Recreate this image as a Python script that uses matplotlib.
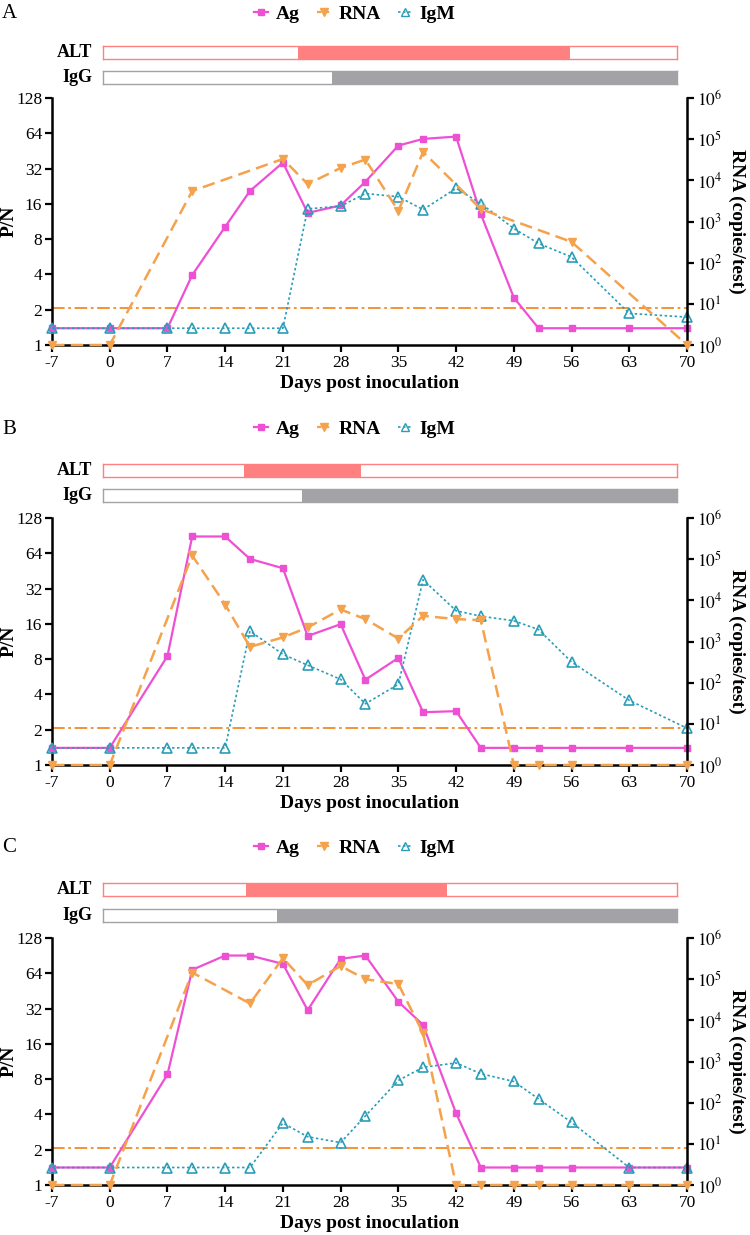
import matplotlib
matplotlib.use('Agg')
import matplotlib.pyplot as plt
from matplotlib.lines import Line2D

plt.rcParams['font.family'] = 'serif'
plt.rcParams['font.serif'] = ['Liberation Serif', 'DejaVu Serif']
plt.rcParams['mathtext.fontset'] = 'stix'

# sampling days (Ag and IgM share them)
days = [-7, 0, 7, 10, 14, 17, 21, 24, 28, 31, 35, 38, 42, 45, 49, 52, 56, 63, 70]
xticks = [-7, 0, 7, 14, 21, 28, 35, 42, 49, 56, 63, 70]

# panel A
ag_a = [1.39, 1.39, 1.39, 3.95, 10.2, 20.6, 36, 13.4, 15.5, 24.7, 50.3, 57.3, 60, 13.1, 2.54, 1.39, 1.39, 1.39, 1.39]
igm_a = [1.39, 1.39, 1.39, 1.39, 1.39, 1.39, 1.39, 14.5, 15.3, 19.6, 18.4, 14.3, 21.7, 16.1, 9.86, 7.36, 5.63, 1.86, 1.73]
rna_days_a = [-7, 0, 10, 21, 24, 28, 31, 35, 38, 45, 56, 70]
rna_a = [1, 1, 5.5e3, 3.3e4, 8.1e3, 2.0e4, 3.2e4, 1.8e3, 4.9e4, 2.0e3, 3.2e2, 1]
alt_a = (0.339, 0.814)   # fraction of the bar
igg_a = (0.399, 1.0)

# panel B
ag_b = [1.4, 1.4, 8.5, 89, 89, 57.3, 47.7, 12.6, 15.9, 5.34, 8.2, 2.82, 2.88, 1.4, 1.4, 1.4, 1.4, 1.4, 1.4]
igm_b = [1.4, 1.4, 1.4, 1.4, 1.4, 13.9, 8.8, 7.1, 5.38, 3.33, 4.88, 38, 20.7, 18.6, 17, 14.3, 7.57, 3.56, 2.06]
rna_days_b = [-7, 0, 10, 14, 17, 21, 24, 28, 31, 35, 38, 42, 45, 49, 52, 56, 70]
rna_b = [1, 1, 1.23e5, 7.9e3, 7.4e2, 1.26e3, 2.19e3, 6.0e3, 3.5e3, 1.18e3, 4.2e3, 3.5e3, 3.3e3, 1, 1, 1, 1]
alt_b = (0.246, 0.450)
igg_b = (0.347, 1.0)

# panel C
ag_c = [1.41, 1.41, 8.77, 68.5, 90.7, 90.7, 77, 31, 85, 90.7, 36.6, 23.2, 4.09, 1.41, 1.41, 1.41, 1.41, 1.41, 1.41]
igm_c = [1.41, 1.41, 1.41, 1.41, 1.41, 1.41, 3.38, 2.58, 2.30, 3.88, 7.8, 10.1, 11, 8.9, 7.64, 5.43, 3.42, 1.41, 1.41]
rna_days_c = [-7, 0, 10, 17, 21, 24, 28, 31, 35, 38, 42, 45, 49, 52, 56, 63, 70]
rna_c = [1, 1, 1.45e5, 2.57e4, 3.24e5, 7.2e4, 2.09e5, 1.0e5, 7.6e4, 4.9e3, 1, 1, 1, 1, 1, 1, 1]
alt_c = (0.249, 0.600)
igg_c = (0.303, 1.0)

cutoff = 2.07
pn_ticks = [1, 2, 4, 8, 16, 32, 64, 128]
rna_ticks = [1, 1e1, 1e2, 1e3, 1e4, 1e5, 1e6]

pink = '#EE50D4'
orange = '#F5A24C'
cut_col = '#F28A26'
teal = '#2A9DB8'
alt_col = '#FF8080'
igg_col = '#A3A3A7'

W, H = 750, 1235
fig = plt.figure(figsize=(7.5, 12.35), dpi=100)


def fx(px):
    return px / W


def fy(py):
    return 1 - py / H


def status_bar(yc, span, col, label):
    bax = fig.add_axes([fx(103), fy(yc + 6.5), fx(574), 13 / H])
    bax.set_xlim(0, 1)
    bax.set_ylim(-0.5, 0.5)
    bax.barh(0, span[1] - span[0], left=span[0], height=1, color=col, lw=0)
    bax.set_xticks([])
    bax.set_yticks([])
    for s in bax.spines.values():
        s.set_color(col)
        s.set_linewidth(1.0)
    fig.text(fx(92), fy(yc), label, ha='right', va='center', fontsize=13, fontweight='bold')


def panel(letter, top, leg_y, alt_y, igg_y, ag, igm, rdays, rna, alt, igg):
    h = 247
    ax = fig.add_axes([fx(52), fy(top + h), fx(635), h / H])
    ax.set_yscale('log', base=2)
    ax.set_ylim(1, 128)
    ax.set_xlim(-7, 70)
    ax.axhline(cutoff, color=cut_col, lw=1.3, ls=(0, (7, 2, 1.5, 2)), zorder=2)
    ax.plot(days, ag, color=pink, lw=1.6, marker='s', ms=5, clip_on=False, zorder=3)
    ax.plot(days, igm, color=teal, lw=1.2, ls=(0, (1.5, 1.5)), marker='^', ms=7,
            mfc='none', mec=teal, mew=1.2, clip_on=False, zorder=4)
    ax.set_yticks(pn_ticks)
    ax.set_yticklabels([str(v) for v in pn_ticks])
    ax.minorticks_off()
    ax.set_xticks(xticks)
    ax.set_xticklabels([str(v) for v in xticks])
    for s in ['top', 'right']:
        ax.spines[s].set_visible(False)
    for s in ['left', 'bottom']:
        ax.spines[s].set_linewidth(1.8)
    ax.tick_params(direction='out', length=5, width=1.6, labelsize=12.5, pad=2)
    ax.set_ylabel('P/N', fontsize=14, fontweight='bold', va='center')
    ax.yaxis.set_label_coords(-0.068, 0.5)
    ax.set_xlabel('Days post inoculation', fontsize=14, fontweight='bold', va='center')
    ax.xaxis.set_label_coords(0.5, -0.155)

    ax2 = ax.twinx()
    ax2.set_yscale('log')
    ax2.set_ylim(1, 1e6)
    ax2.plot(rdays, rna, color=orange, lw=1.8, ls=(0, (5, 2.5)), marker='v', ms=6,
             clip_on=False, zorder=5)
    ax2.set_yticks(rna_ticks)
    ax2.set_yticklabels(['$10^{%d}$' % i for i in range(7)])
    ax2.minorticks_off()
    for s in ['top', 'left', 'bottom']:
        ax2.spines[s].set_visible(False)
    ax2.spines['right'].set_linewidth(1.8)
    ax2.tick_params(direction='out', length=5, width=1.6, labelsize=12.5, pad=2)
    ax2.set_ylabel('RNA (copies/test)', fontsize=14, fontweight='bold', rotation=270, va='center')
    ax2.yaxis.set_label_coords(1.078, 0.5)

    status_bar(alt_y, alt, alt_col, 'ALT')
    status_bar(igg_y, igg, igg_col, 'IgG')

    fig.text(fx(2), fy(leg_y), letter, ha='left', va='center', fontsize=15)
    handles = [
        Line2D([], [], color=pink, lw=1.6, marker='s', ms=5),
        Line2D([], [], color=orange, lw=1.6, ls=(0, (2, 1.5)), marker='v', ms=6),
        Line2D([], [], color=teal, lw=1.2, ls=(0, (1.5, 1.5)), marker='^', ms=6,
               mfc='none', mec=teal),
    ]
    fig.legend(handles, ['Ag', 'RNA', 'IgM'], loc='center', bbox_to_anchor=(fx(355), fy(leg_y)),
               ncol=3, frameon=False, prop={'size': 14, 'weight': 'bold'},
               handlelength=0.7, handletextpad=0.4, columnspacing=0.9)


panel('A', 98, 14, 52.3, 77.8, ag_a, igm_a, rna_days_a, rna_a, alt_a, igg_a)
panel('B', 518, 429, 470.5, 495.5, ag_b, igm_b, rna_days_b, rna_b, alt_b, igg_b)
panel('C', 938, 848, 889.5, 915, ag_c, igm_c, rna_days_c, rna_c, alt_c, igg_c)

fig.savefig('out.png', dpi=100)
